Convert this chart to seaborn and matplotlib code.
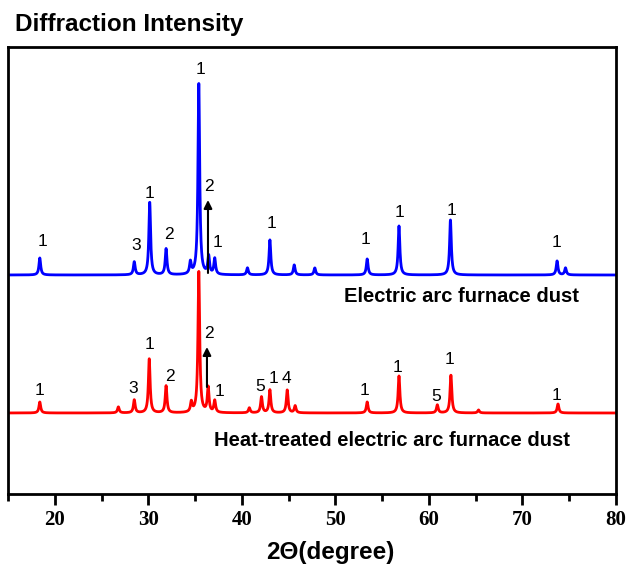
import matplotlib
matplotlib.use("Agg")
import matplotlib.pyplot as plt
import numpy as np
import pandas as pd
import seaborn as sns

# peak positions (2theta, degree) and apex intensities (a.u.)
raw_base = 219
raw_pos = [18.4, 28.5, 30.15, 31.9, 34.5, 35.4, 36.45, 37.1, 40.6, 43.0,
           45.6, 47.8, 53.4, 56.8, 62.3, 73.7, 74.6]
raw_top = [236, 232, 292, 245, 231, 410, 237, 235, 226, 254,
           229, 226, 235, 268, 274, 233, 226]

heat_base = 81
heat_pos = [18.4, 26.8, 28.5, 30.1, 31.9, 34.6, 35.4, 36.4, 37.1, 40.8,
            42.1, 43.0, 44.85, 45.7, 53.4, 56.8, 60.9, 62.35, 65.3, 73.8]
heat_top = [92, 87, 94, 135, 108, 91, 222, 106, 93, 86,
            97, 104, 104, 88, 92, 118, 89, 119, 84, 90]

# phase labels: (2theta, intensity, phase number)
raw_labels = [(18.74, 252, "1"), (28.68, 248, "3"), (30.18, 300, "1"),
              (32.21, 259, "2"), (35.53, 425, "1"), (36.49, 307, "2"),
              (37.45, 251, "1"), (43.22, 270, "1"), (53.27, 254, "1"),
              (56.80, 281, "1"), (62.36, 283, "1"), (73.69, 251, "1")]
heat_labels = [(18.42, 103, "1"), (28.36, 105, "3"), (30.18, 149, "1"),
               (32.32, 117, "2"), (36.49, 160, "2"), (37.56, 102, "1"),
               (41.94, 107, "5"), (43.33, 115, "1"), (44.72, 115, "4"),
               (53.06, 103, "1"), (56.69, 126, "1"), (60.76, 97, "5"),
               (62.25, 134, "1"), (73.69, 98, "1")]

x_ticks = [20, 30, 40, 50, 60, 70, 80]


def pattern(tt, base, pos, top, hw=0.11):
    # render the peak list as narrow Lorentzian lines on a flat background
    y = np.full_like(tt, base, dtype=float)
    for p, t in zip(pos, top):
        y += (t - base) * hw**2 / ((tt - p)**2 + hw**2)
    return y


tt = np.arange(15, 80.001, 0.02)
df = pd.concat([
    pd.DataFrame({"2theta": tt, "I": pattern(tt, heat_base, heat_pos, heat_top),
                  "sample": "heat"}),
    pd.DataFrame({"2theta": tt, "I": pattern(tt, raw_base, raw_pos, raw_top),
                  "sample": "raw"}),
])

sns.set_style("ticks")
plt.rcParams["font.family"] = ["Liberation Sans", "DejaVu Sans"]
plt.rcParams["text.color"] = "black"
plt.rcParams["axes.labelcolor"] = "black"
plt.rcParams["xtick.color"] = "black"

fig = plt.figure(figsize=(6.3, 5.65), dpi=100)
ax = fig.add_axes([0.0127, 0.1257, 0.9651, 0.7911])

sns.lineplot(data=df, x="2theta", y="I", hue="sample", estimator=None,
             sort=False, palette={"heat": "#ff0000", "raw": "#0000ff"},
             linewidth=2.0, legend=False, ax=ax)

ax.set_xlim(15, 80)
ax.set_ylim(0, 447)
ax.set_yticks([])
ax.set_xticks(x_ticks)
ax.set_xticks(np.arange(15, 80, 10), minor=True)
ax.tick_params(axis="x", which="major", direction="out", length=8, width=2)
ax.tick_params(axis="x", which="minor", direction="out", length=5, width=2)
for lab in ax.get_xticklabels():
    lab.set_fontfamily("Liberation Serif")
    lab.set_fontweight("bold")
    lab.set_fontsize(15)
for s in ax.spines.values():
    s.set_linewidth(2)
    s.set_color("black")

ax.set_xlabel("2\u0398(degree)", fontsize=17.5, fontweight="bold", labelpad=10)
ax.xaxis.set_label_coords(0.53, -0.105)
ax.set_ylabel("")

for x, y, t in raw_labels + heat_labels:
    ax.text(x, y, t, ha="center", va="center", fontsize=12.5)

# arrows marking the phase-2 shoulder next to the main peak
for x, y0, y1 in [(36.38, 221, 294), (36.27, 107, 147)]:
    ax.annotate("", xy=(x, y1), xytext=(x, y0),
                arrowprops=dict(arrowstyle="-|>", color="black", lw=1.5,
                                mutation_scale=12, shrinkA=0, shrinkB=0))

ax.text(63.43, 197, "Electric arc furnace dust", ha="center", va="center",
        fontsize=14.5, fontweight="bold")
ax.text(56.05, 53, "Heat-treated electric arc furnace dust", ha="center",
        va="center", fontsize=14.5, fontweight="bold")

fig.text(0.024, 0.956, "Diffraction Intensity", ha="left", va="center",
         fontsize=17.5, fontweight="bold")

fig.savefig("out.png", dpi=100)
